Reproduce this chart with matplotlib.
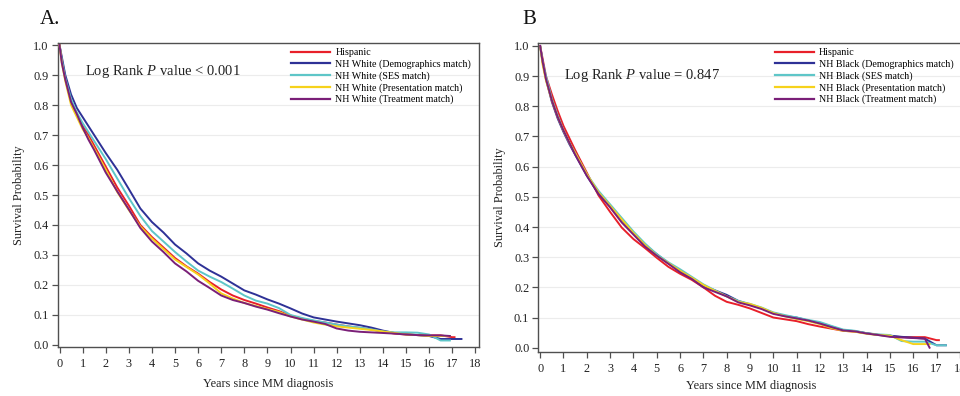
import matplotlib
matplotlib.use("Agg")
import matplotlib.pyplot as plt
from matplotlib.lines import Line2D

plt.rcParams['font.family'] = ['Liberation Serif', 'DejaVu Serif']
plt.rcParams['mathtext.fontset'] = 'custom'
plt.rcParams['mathtext.rm'] = 'Liberation Serif'
plt.rcParams['mathtext.it'] = 'Liberation Serif:italic'

# ---------------- data ----------------
times = [0, 0.1, 0.25, 0.5, 0.75, 1, 1.25, 1.5, 2, 2.5, 3, 3.5, 4, 4.5, 5, 5.5, 6,
         6.5, 7, 7.5, 8, 8.5, 9, 9.5, 10, 10.5, 11, 11.5, 12, 12.5, 13, 13.5, 14,
         14.5, 15, 15.5, 16, 16.5, 17]

x_ticks = list(range(0, 19))
y_ticks = [0.0, 0.1, 0.2, 0.3, 0.4, 0.5, 0.6, 0.7, 0.8, 0.9, 1.0]

labels_A = ["Hispanic", "NH White (Demographics match)", "NH White (SES match)",
            "NH White (Presentation match)", "NH White (Treatment match)"]
labels_B = ["Hispanic", "NH Black (Demographics match)", "NH Black (SES match)",
            "NH Black (Presentation match)", "NH Black (Treatment match)"]
colors = ["#e8202a", "#2e3196", "#5ec6c8", "#f6d21c", "#7a1f78"]

# Panel A survival estimates
A_hisp = [1.0, 0.95, 0.89, 0.81, 0.77, 0.73, 0.70, 0.665, 0.595, 0.525, 0.465, 0.40,
          0.36, 0.325, 0.29, 0.262, 0.238, 0.21, 0.185, 0.165, 0.15, 0.138, 0.125,
          0.113, 0.098, 0.088, 0.080, 0.075, 0.068, 0.062, 0.057, 0.052, 0.045,
          0.038, 0.035, 0.033, 0.032, 0.032, 0.026]
A_demo = [1.0, 0.96, 0.90, 0.835, 0.79, 0.76, 0.73, 0.70, 0.64, 0.584, 0.52, 0.455,
          0.41, 0.375, 0.335, 0.305, 0.272, 0.248, 0.228, 0.205, 0.182, 0.168,
          0.152, 0.138, 0.122, 0.105, 0.092, 0.085, 0.078, 0.072, 0.066, 0.058,
          0.048, 0.040, 0.036, 0.033, 0.030, 0.020, 0.020]
A_ses = [1.0, 0.95, 0.89, 0.82, 0.775, 0.74, 0.71, 0.68, 0.62, 0.555, 0.49, 0.43,
         0.38, 0.345, 0.31, 0.278, 0.248, 0.228, 0.21, 0.188, 0.165, 0.148, 0.138,
         0.123, 0.10, 0.09, 0.082, 0.075, 0.068, 0.062, 0.058, 0.052, 0.045, 0.042,
         0.042, 0.041, 0.035, 0.015, 0.015]
A_pres = [1.0, 0.94, 0.88, 0.80, 0.76, 0.72, 0.69, 0.655, 0.585, 0.51, 0.45, 0.395,
          0.355, 0.32, 0.285, 0.26, 0.235, 0.205, 0.172, 0.155, 0.14, 0.13, 0.12,
          0.11, 0.095, 0.085, 0.075, 0.068, 0.062, 0.058, 0.054, 0.050, 0.045,
          0.040, 0.035, 0.033, 0.030, 0.030, 0.030]
A_treat = [1.0, 0.94, 0.885, 0.81, 0.77, 0.725, 0.685, 0.65, 0.575, 0.512, 0.452,
           0.39, 0.345, 0.31, 0.272, 0.245, 0.214, 0.19, 0.165, 0.15, 0.14, 0.128,
           0.118, 0.106, 0.095, 0.085, 0.078, 0.070, 0.055, 0.048, 0.044, 0.042,
           0.040, 0.038, 0.035, 0.033, 0.032, 0.032, 0.030]
A_end_t = [17.1, 17.4, 16.9, 16.9, 16.9]

# Panel B survival estimates
B_hisp = [1.0, 0.96, 0.90, 0.84, 0.785, 0.735, 0.695, 0.655, 0.58, 0.505, 0.45,
          0.398, 0.36, 0.33, 0.298, 0.268, 0.245, 0.225, 0.20, 0.172, 0.152, 0.142,
          0.13, 0.115, 0.10, 0.094, 0.088, 0.078, 0.070, 0.063, 0.056, 0.053,
          0.048, 0.043, 0.038, 0.035, 0.035, 0.035, 0.025]
B_demo = [1.0, 0.95, 0.89, 0.815, 0.76, 0.715, 0.675, 0.64, 0.57, 0.51, 0.47,
          0.425, 0.38, 0.34, 0.31, 0.28, 0.255, 0.23, 0.205, 0.19, 0.175, 0.155,
          0.143, 0.13, 0.115, 0.105, 0.10, 0.09, 0.082, 0.07, 0.058, 0.055, 0.048,
          0.042, 0.04, 0.036, 0.033, 0.03, 0.008]
B_ses = [1.0, 0.95, 0.90, 0.825, 0.77, 0.72, 0.68, 0.645, 0.575, 0.52, 0.475,
         0.43, 0.385, 0.345, 0.31, 0.283, 0.26, 0.235, 0.21, 0.19, 0.17, 0.155,
         0.145, 0.133, 0.117, 0.108, 0.10, 0.092, 0.085, 0.072, 0.06, 0.056, 0.048,
         0.044, 0.042, 0.022, 0.02, 0.02, 0.008]
B_pres = [1.0, 0.94, 0.885, 0.82, 0.765, 0.72, 0.68, 0.645, 0.575, 0.515, 0.47,
          0.425, 0.38, 0.34, 0.305, 0.28, 0.255, 0.232, 0.208, 0.188, 0.17, 0.152,
          0.145, 0.132, 0.115, 0.104, 0.095, 0.088, 0.078, 0.065, 0.056, 0.053,
          0.046, 0.042, 0.04, 0.025, 0.012, 0.012, 0.012]
B_treat = [1.0, 0.95, 0.89, 0.82, 0.765, 0.72, 0.68, 0.64, 0.57, 0.51, 0.465,
           0.415, 0.375, 0.335, 0.305, 0.278, 0.25, 0.228, 0.20, 0.185, 0.17, 0.15,
           0.14, 0.128, 0.112, 0.104, 0.097, 0.09, 0.08, 0.068, 0.057, 0.054,
           0.047, 0.042, 0.036, 0.034, 0.032, 0.030, 0.0]
B_end_t = [17.1, 17.4, 17.4, 16.7, 16.7]

panel_A = [A_hisp, A_demo, A_ses, A_pres, A_treat]
panel_B = [B_hisp, B_demo, B_ses, B_pres, B_treat]


def series_xy(vals, end_t):
    xs, ys = [], []
    for t, v in zip(times, vals):
        if t < end_t:
            xs.append(t)
            ys.append(v)
    last_val = vals[len(xs)] if len(xs) < len(vals) else vals[-1]
    if end_t > times[-1]:
        last_val = vals[-1]
    xs.append(end_t)
    ys.append(last_val)
    return xs, ys


fig = plt.figure(figsize=(9.6, 3.96), dpi=100)

W, H = 960.0, 396.0
axA = fig.add_axes([57.5 / W, 1 - 347.3 / H, 421.5 / W, 304.6 / H])
axB = fig.add_axes([538.3 / W, 1 - 351.7 / H, 426.0 / W, 309.0 / H])

spine_col = "#505050"


def style_axes(ax, ylim, xlim, xlabelpad):
    ax.set_xlim(*xlim)
    ax.set_ylim(*ylim)
    ax.set_xticks(x_ticks)
    ax.set_yticks(y_ticks)
    ax.set_yticklabels([f"{v:.1f}" for v in y_ticks])
    ax.set_xticklabels([str(v) for v in x_ticks])
    ax.tick_params(direction='out', length=4, width=0.9, colors=spine_col,
                   labelcolor="#222222", labelsize=8.8)
    ax.tick_params(axis='x', pad=4)
    ax.tick_params(axis='y', pad=2.5)
    for sp in ax.spines.values():
        sp.set_color(spine_col)
        sp.set_linewidth(1.0)
    for v in y_ticks[1:-1]:
        ax.axhline(v, color="#ececec", lw=0.8, zorder=0)
    ax.set_xlabel("Years since MM diagnosis", fontsize=8.8, color="#222222",
                  labelpad=xlabelpad)
    ax.set_ylabel("Survival Probability", fontsize=8.8, color="#222222", labelpad=6)


style_axes(axA, (-0.0077, 1.0077), (-0.087, 18.16), 5.5)
style_axes(axB, (-0.0133, 1.0109), (-0.08, 18.19), 4)

for ax, data, ends, labels in [(axA, panel_A, A_end_t, labels_A),
                               (axB, panel_B, B_end_t, labels_B)]:
    handles = []
    for vals, e, c, lab in zip(data, ends, colors, labels):
        xs, ys = series_xy(vals, e)
        ax.plot(xs, ys, color=c, lw=1.4, zorder=3)
        handles.append(Line2D([0], [0], color=c, lw=1.6, label=lab))
    ax.legend(handles=handles, loc='upper left', bbox_to_anchor=(0.555, 0.982),
              frameon=False, fontsize=7.2, handlelength=3.9, handletextpad=0.5,
              labelspacing=0.22, borderpad=0, borderaxespad=0)

fig.text(85 / W, 1 - 71 / H, r"Log Rank $P$ value < 0.001", fontsize=10.5,
         va='center', ha='left', color="#222222")
fig.text(564 / W, 1 - 75 / H, r"Log Rank $P$ value = 0.847", fontsize=10.5,
         va='center', ha='left', color="#222222")

fig.text(40 / W, 1 - 20 / H, "A.", fontsize=15, va='center', ha='left', color="#111111")
fig.text(522 / W, 1 - 20 / H, "B", fontsize=15, va='center', ha='left', color="#111111")

fig.savefig("out.png", dpi=100)
